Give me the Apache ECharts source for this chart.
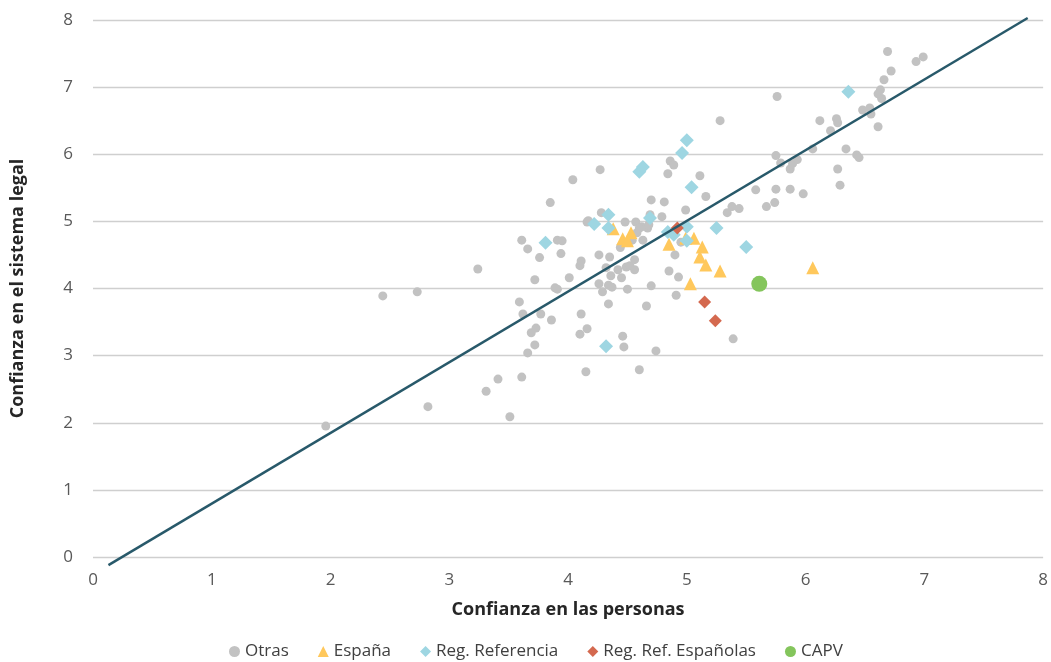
<!DOCTYPE html>
<html>
<head>
<meta charset="utf-8">
<title>Confianza</title>
<script src="https://cdn.jsdelivr.net/npm/echarts@6/dist/echarts.min.js"></script>
<style>
  html, body { margin: 0; padding: 0; background: #fff; }
  #main { width: 1051px; height: 662px; }
</style>
</head>
<body>
<div id="main"></div>
<script>
// [confianza en las personas, confianza en el sistema legal]
const otras = [
  [1.96, 1.95], [2.44, 3.89], [2.73, 3.95], [2.82, 2.24], [3.24, 4.29],
  [3.31, 2.47], [3.41, 2.65], [3.51, 2.09], [3.59, 3.80], [3.62, 3.62],
  [3.61, 2.68], [3.61, 4.72], [3.66, 4.59], [3.66, 3.04], [3.69, 3.34],
  [3.72, 3.16], [3.73, 3.41], [3.72, 4.13], [3.76, 4.46], [3.77, 3.62],
  [3.85, 5.28], [3.86, 3.53], [3.89, 4.01], [3.91, 3.99], [3.91, 4.72],
  [3.95, 4.71], [3.94, 4.52], [4.04, 5.62], [4.01, 4.16], [4.10, 4.34],
  [4.11, 4.41], [4.11, 3.62], [4.10, 3.32], [4.16, 3.40], [4.15, 2.76],
  [4.17, 5.01], [4.27, 5.77], [4.28, 5.13], [4.26, 4.50], [4.26, 4.07],
  [4.29, 3.95], [4.34, 4.05], [4.37, 4.02], [4.32, 4.31], [4.35, 4.47],
  [4.36, 4.19], [4.34, 3.77], [4.16, 4.99], [4.48, 4.99], [4.57, 4.99],
  [4.42, 4.28], [4.45, 4.16], [4.49, 4.32], [4.52, 4.34], [4.56, 4.28],
  [4.56, 4.43], [4.50, 3.99], [4.46, 3.29], [4.47, 3.13], [4.44, 4.61],
  [4.54, 4.72], [4.58, 4.83], [4.63, 4.72], [4.62, 4.92], [4.67, 4.90],
  [4.68, 4.95], [4.70, 5.32], [4.81, 5.29], [4.69, 5.10], [4.79, 5.07],
  [4.60, 2.79], [4.66, 3.74], [4.74, 3.07], [4.70, 4.04], [4.84, 5.71],
  [4.86, 5.90], [4.89, 5.84], [4.99, 5.17], [4.95, 4.69], [4.85, 4.26],
  [4.90, 4.50], [4.93, 4.17], [4.91, 3.90], [5.11, 5.68], [5.16, 5.37],
  [5.28, 6.50], [5.39, 3.25], [5.34, 5.13], [5.38, 5.22], [5.44, 5.19],
  [5.58, 5.47], [5.67, 5.22], [5.74, 5.28], [5.75, 5.48], [5.76, 6.86],
  [5.75, 5.98], [5.79, 5.87], [5.87, 5.48], [5.87, 5.78], [5.89, 5.86],
  [5.93, 5.92], [5.98, 5.41], [6.06, 6.08], [6.12, 6.50], [6.21, 6.35],
  [6.26, 6.53], [6.27, 6.47], [6.27, 5.78], [6.29, 5.54], [6.34, 6.08],
  [6.43, 5.99], [6.45, 5.95], [6.48, 6.66], [6.54, 6.69], [6.55, 6.60],
  [6.61, 6.41], [6.63, 6.96], [6.61, 6.90], [6.64, 6.83], [6.66, 7.11],
  [6.72, 7.24], [6.69, 7.53], [6.93, 7.38], [6.99, 7.45], [4.60, 4.90]
];
const espana = [
  [4.38, 4.89], [4.53, 4.83], [4.46, 4.74], [4.50, 4.71], [4.99, 4.75],
  [5.06, 4.75], [4.85, 4.66], [5.13, 4.62], [5.11, 4.47], [5.16, 4.35],
  [5.28, 4.26], [5.03, 4.07], [6.06, 4.31]
];
const regReferencia = [
  [3.81, 4.68], [4.22, 4.96], [4.34, 5.10], [4.34, 4.90], [4.32, 3.14],
  [4.60, 5.74], [4.63, 5.81], [4.69, 5.05], [4.84, 4.84], [4.89, 4.80],
  [4.96, 6.02], [5.00, 6.21], [5.00, 4.92], [5.00, 4.71], [5.04, 5.51],
  [5.25, 4.90], [5.50, 4.62], [6.36, 6.93]
];
const regRefEspanolas = [
  [4.92, 4.90], [5.15, 3.80], [5.24, 3.52]
];
const capv = [
  [5.61, 4.07]
];
const trendLine = [
  [0.13, -0.12], [7.87, 8.03]
];
const axisTicks = [0, 1, 2, 3, 4, 5, 6, 7, 8];

const font = '"Open Sans", "Noto Sans", sans-serif';
const myChart = echarts.init(document.getElementById('main'));

myChart.setOption({
  animation: false,
  textStyle: { fontFamily: font },
  grid: { left: 93, right: 7, top: 20, bottom: 105 },
  legend: {
    top: 638,
    left: 224,
    itemWidth: 11,
    itemHeight: 11,
    itemGap: 29,
    textStyle: { fontSize: 17, color: '#404040', fontFamily: font },
    data: [
      { name: 'Otras', icon: 'circle' },
      { name: 'España', icon: 'triangle' },
      { name: 'Reg. Referencia', icon: 'diamond' },
      { name: 'Reg. Ref. Españolas', icon: 'diamond' },
      { name: 'CAPV', icon: 'circle' }
    ]
  },
  xAxis: {
    type: 'value',
    min: axisTicks[0],
    max: axisTicks[axisTicks.length - 1],
    interval: 1,
    name: 'Confianza en las personas',
    nameLocation: 'middle',
    nameGap: 44,
    nameTextStyle: { fontSize: 18, fontWeight: 'bold', color: '#262626' },
    axisLine: { show: false },
    axisTick: { show: false },
    splitLine: { show: false },
    axisLabel: { fontSize: 17, color: '#595959', margin: 15 }
  },
  yAxis: {
    type: 'value',
    min: axisTicks[0],
    max: axisTicks[axisTicks.length - 1],
    interval: 1,
    name: 'Confianza en el sistema legal',
    nameLocation: 'middle',
    nameGap: 66,
    nameTextStyle: { fontSize: 18, fontWeight: 'bold', color: '#262626' },
    axisLine: { show: false },
    axisTick: { show: false },
    splitLine: { lineStyle: { color: '#cfcfcf', width: 1.3 } },
    axisLabel: { fontSize: 17, color: '#595959', margin: 20 }
  },
  series: [
    {
      name: 'Otras',
      type: 'scatter',
      symbol: 'circle',
      symbolSize: 9,
      itemStyle: { color: '#c2c2c2', opacity: 1 },
      data: otras
    },
    {
      name: 'España',
      type: 'scatter',
      symbol: 'triangle',
      symbolSize: 13,
      itemStyle: { color: '#ffc85c', opacity: 1 },
      data: espana
    },
    {
      name: 'Reg. Referencia',
      type: 'scatter',
      symbol: 'diamond',
      symbolSize: 14,
      itemStyle: { color: '#9ed6e2', opacity: 1 },
      data: regReferencia
    },
    {
      name: 'Reg. Ref. Españolas',
      type: 'scatter',
      symbol: 'diamond',
      symbolSize: 13,
      itemStyle: { color: '#d4694f', opacity: 1 },
      data: regRefEspanolas
    },
    {
      name: 'CAPV',
      type: 'scatter',
      symbol: 'circle',
      symbolSize: 16,
      itemStyle: { color: '#84c55c', opacity: 1 },
      data: capv
    },
    {
      name: 'Tendencia',
      type: 'line',
      symbol: 'none',
      clip: false,
      silent: true,
      lineStyle: { color: '#28596a', width: 2.5 },
      data: trendLine
    }
  ]
});
</script>
</body>
</html>
